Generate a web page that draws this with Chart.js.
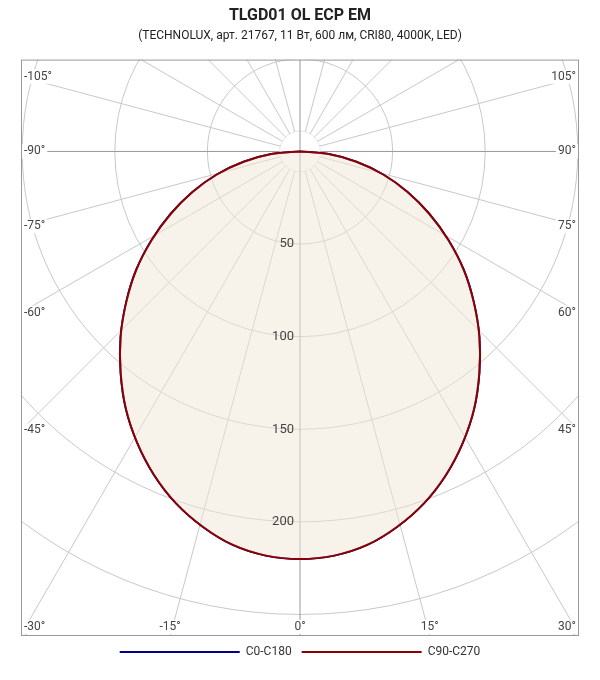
<!DOCTYPE html>
<html><head><meta charset="utf-8">
<script src="https://cdn.jsdelivr.net/npm/chart.js@4"></script>
<style>html,body{margin:0;padding:0;background:#fff}#w{width:600px;height:680px}</style>
</head><body><div id="w"><canvas id="c"></canvas></div>
<script>
const angles = [0,5,10,15,20,25,30,35,40,45,50,55,60,65,70,75,80,85,90];
const c0c180 = [213,212,208.8,203,195.7,186.5,175.8,164,150.7,137,122.5,108,92.5,77,61.8,46.5,30.9,15.5,0];
const c90c270 = [213,212,208.8,203,195.7,186.5,175.8,164,150.7,137,122.5,108,92.5,77,61.8,46.5,30.9,15.5,0];
const gridRadii = [50,100,150,200,250,300,350,400];
const radiusLabels = [50,100,150,200];
const rayAngles = [-180,-165,-150,-135,-120,-105,-90,-75,-60,-45,-30,-15,0,15,30,45,60,75,90,105,120,135,150,165];
const angleLabels = [-105,-90,-75,-60,-45,-30,-15,0,15,30,45,60,75,90,105];
const titleText = 'TLGD01 OL ECP EM';
const subtitleText = '(TECHNOLUX, арт. 21767, 11 Вт, 600 лм, CRI80, 4000K, LED)';

function toXY(vals){
  const pts=[];
  for(let i=angles.length-1;i>=0;i--){const a=-angles[i]*Math.PI/180;pts.push({x:vals[i]*Math.sin(a),y:-vals[i]*Math.cos(a)});}
  for(let i=1;i<angles.length;i++){const a=angles[i]*Math.PI/180;pts.push({x:vals[i]*Math.sin(a),y:-vals[i]*Math.cos(a)});}
  return pts;
}
const F='Roboto';
const polarGrid={id:'polarGrid',
 beforeDatasetsDraw(ch){
  const {ctx,chartArea:ca,scales:{x,y}}=ch;
  const cx=x.getPixelForValue(0), cy=y.getPixelForValue(0);
  const k=x.getPixelForValue(1)-cx;
  ctx.save();ctx.beginPath();ctx.rect(ca.left,ca.top,ca.right-ca.left,ca.bottom-ca.top);ctx.clip();
  ctx.lineWidth=1;
  ctx.beginPath();ctx.arc(cx,cy,11*k,0,Math.PI*2);ctx.strokeStyle='#e6e6e6';ctx.stroke();
  ctx.strokeStyle='#c8c8c8';
  gridRadii.forEach(r=>{ctx.beginPath();ctx.arc(cx,cy,r*k,0,Math.PI*2);ctx.stroke();});
  rayAngles.forEach(a=>{
    if(a===0||a===-180||a===90||a===-90) return;
    const t=a*Math.PI/180;const dx=Math.sin(t),dy=Math.cos(t);
    ctx.beginPath();ctx.moveTo(cx+dx*11*k,cy+dy*11*k);ctx.lineTo(cx+dx*2000,cy+dy*2000);ctx.stroke();
  });
  ctx.strokeStyle='#999';
  ctx.beginPath();ctx.moveTo(cx,ca.top);ctx.lineTo(cx,ca.bottom);ctx.stroke();
  ctx.beginPath();ctx.moveTo(ca.left,cy);ctx.lineTo(cx-11*k,cy);ctx.moveTo(cx+11*k,cy);ctx.lineTo(ca.right,cy);ctx.stroke();
  ctx.restore();
 },
 afterDatasetsDraw(ch){
  const {ctx,chartArea:ca,scales:{x,y}}=ch;
  const cx=x.getPixelForValue(0), cy=y.getPixelForValue(0);
  const k=x.getPixelForValue(1)-cx;
  ctx.save();ctx.textBaseline='middle';
  ctx.font='13px '+F;ctx.textAlign='right';ctx.fillStyle='#444';
  radiusLabels.forEach(r=>{ctx.fillText(String(r),cx-6,cy+r*k);});
  ctx.font='12px '+F;ctx.textAlign='center';
  const lab=(t,px,py)=>{const w=ctx.measureText(t).width+4;ctx.fillStyle='#fff';ctx.fillRect(px-w/2,py-7,w,14);ctx.fillStyle='#444';ctx.fillText(t,px,py);};
  angleLabels.forEach(a=>{
    const t=a*Math.PI/180;const dx=Math.sin(t),dy=Math.cos(t);
    let s=Infinity;
    if(dx>0)s=Math.min(s,(ca.right-cx)/dx);if(dx<0)s=Math.min(s,(ca.left-cx)/dx);
    if(dy>0)s=Math.min(s,(ca.bottom-cy)/dy);if(dy<0)s=Math.min(s,(ca.top-cy)/dy);
    let px=cx+dx*s,py=cy+dy*s;
    const txt=a+'°';const w=ctx.measureText(txt).width;
    px=Math.max(ca.left+w/2+3,Math.min(ca.right-w/2-3,px));
    py=Math.max(ca.top+9,Math.min(ca.bottom-9,py));
    lab(txt,px,py);
  });
  ctx.strokeStyle='#999';ctx.lineWidth=1;ctx.strokeRect(ca.left+0.5,ca.top+0.5,ca.right-ca.left-1,ca.bottom-ca.top-1);
  ctx.restore();
 }};
new Chart(document.getElementById('c'),{
 type:'scatter',
 data:{datasets:[
  {label:'C0-C180',order:1,data:toXY(c0c180),showLine:true,borderColor:'#00008b',backgroundColor:'#00008b',borderWidth:2,pointRadius:0,tension:0.3,fill:false},
  {label:'C90-C270',order:0,data:toXY(c90c270),showLine:true,borderColor:'#8b0000',backgroundColor:'rgba(240,232,216,0.5)',borderWidth:2,pointRadius:0,tension:0.3,fill:'shape'}
 ]},
 plugins:[polarGrid],
 options:{responsive:true,maintainAspectRatio:false,animation:false,
  layout:{padding:{left:21,right:21,top:0,bottom:12}},
  scales:{x:{display:false,min:-150.65,max:150.65},y:{display:false,min:-253.2,max:48}},
  plugins:{
   title:{display:true,text:titleText,font:{family:F,size:16,weight:'bold'},color:'#222',padding:{top:6,bottom:4}},
   subtitle:{display:true,text:subtitleText,font:{family:F,size:12},color:'#222',padding:{bottom:16}},
   legend:{position:'bottom',labels:{font:{family:F,size:12},color:'#333',boxWidth:120,boxHeight:2,padding:10,
     generateLabels(ch){return ch.data.datasets.map((d,i)=>({text:d.label,fillStyle:d.borderColor,strokeStyle:d.borderColor,lineWidth:0,fontColor:'#333',datasetIndex:i,hidden:false}));}}},
   tooltip:{enabled:false}
  }}
});
</script></body></html>
